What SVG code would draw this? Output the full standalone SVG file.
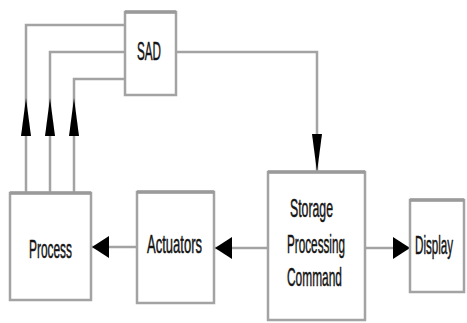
<svg xmlns="http://www.w3.org/2000/svg" width="467" height="323" viewBox="0 0 467 323">
  <style>
    .box { fill: #ffffff; stroke: #a3a3a3; stroke-width: 2.5; }
    .top { stroke: #9a9a9a; stroke-width: 3.5; }
    .wire { fill: none; stroke: #a3a3a3; stroke-width: 2.5; }
    .lbl { font-family: "Liberation Sans", Arial, sans-serif; font-size: 25px; fill: #141414; stroke: #141414; stroke-width: 0.5; }
  </style>
  <defs>
    <marker id="tall" viewBox="0 0 38 10" refX="38" refY="5" markerWidth="38" markerHeight="10" markerUnits="userSpaceOnUse" orient="auto">
      <path d="M0,0 L38,5 L0,10 z" fill="#000"/>
    </marker>
    <marker id="wide" viewBox="0 0 17 22" refX="17" refY="11" markerWidth="17" markerHeight="22" markerUnits="userSpaceOnUse" orient="auto">
      <path d="M0,0 L17,11 L0,22 z" fill="#000"/>
    </marker>
  </defs>

  <g id="connectors">
    <!-- feedback lines from Process up to SAD -->
    <path class="wire" d="M26,193 V98" marker-end="url(#tall)"/>
    <path class="wire" d="M26,98 V25 H125"/>
    <path class="wire" d="M50,193 V98" marker-end="url(#tall)"/>
    <path class="wire" d="M50,98 V52 H125"/>
    <path class="wire" d="M74,193 V98" marker-end="url(#tall)"/>
    <path class="wire" d="M74,98 V79 H125"/>
    <!-- SAD to Storage -->
    <path class="wire" d="M176,52 H317 V172" marker-end="url(#tall)"/>
    <!-- Actuators to Process -->
    <path class="wire" d="M137,247 H92" marker-end="url(#wide)"/>
    <!-- Storage to Actuators -->
    <path class="wire" d="M268,248 H215" marker-end="url(#wide)"/>
    <!-- Storage to Display -->
    <path class="wire" d="M365,248 H410" marker-end="url(#wide)"/>
  </g>

  <g id="sad">
    <rect class="box" x="125" y="12" width="51" height="83"/>
    <line class="top" x1="125" y1="12" x2="176" y2="12"/>
    <text class="lbl" x="137" y="60" textLength="24" lengthAdjust="spacingAndGlyphs">SAD</text>
  </g>

  <g id="process">
    <rect class="box" x="10" y="193" width="81" height="107"/>
    <line class="top" x1="10" y1="193" x2="91" y2="193"/>
    <text class="lbl" x="29" y="258" textLength="43" lengthAdjust="spacingAndGlyphs">Process</text>
  </g>

  <g id="actuators">
    <rect class="box" x="137" y="192" width="77" height="111"/>
    <line class="top" x1="137" y1="192" x2="214" y2="192"/>
    <text class="lbl" x="147" y="253" textLength="55" lengthAdjust="spacingAndGlyphs">Actuators</text>
  </g>

  <g id="storage">
    <rect class="box" x="268" y="172" width="97" height="148"/>
    <line class="top" x1="268" y1="172" x2="365" y2="172"/>
    <text class="lbl" x="290" y="217" textLength="43" lengthAdjust="spacingAndGlyphs">Storage</text>
    <text class="lbl" x="287" y="253" textLength="58" lengthAdjust="spacingAndGlyphs">Processing</text>
    <text class="lbl" x="287" y="286" textLength="55" lengthAdjust="spacingAndGlyphs">Command</text>
  </g>

  <g id="display">
    <rect class="box" x="410" y="200" width="54" height="92"/>
    <line class="top" x1="410" y1="200" x2="464" y2="200"/>
    <!-- narrow lettering done by a horizontal squeeze -->
    <text class="lbl" transform="translate(415 254) scale(0.465 1)" x="0" y="0">Display</text>
  </g>
</svg>
